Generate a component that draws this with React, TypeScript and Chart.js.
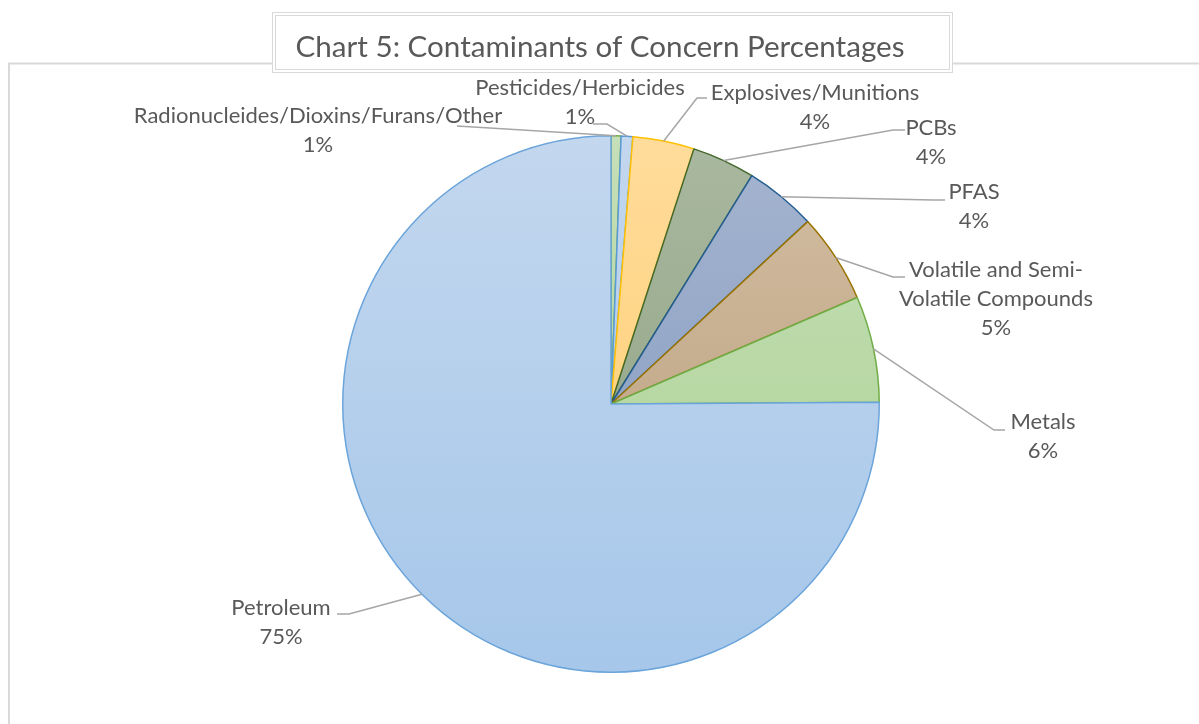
import React, { useEffect, useRef } from "react";
import { Chart, registerables } from "chart.js";

Chart.register(...registerables);

const TITLE = "Chart 5: Contaminants of Concern Percentages";

const categories = [
  "Radionucleides/Dioxins/Furans/Other",
  "Pesticides/Herbicides",
  "Explosives/Munitions",
  "PCBs",
  "PFAS",
  "Volatile and Semi-Volatile Compounds",
  "Metals",
  "Petroleum",
];

const values = [0.6, 0.7, 3.7, 3.8, 4.3, 5.4, 6.4, 75.1];

const labelLines = [
  ["Radionucleides/Dioxins/Furans/Other"],
  ["Pesticides/Herbicides"],
  ["Explosives/Munitions"],
  ["PCBs"],
  ["PFAS"],
  ["Volatile and Semi-", "Volatile Compounds"],
  ["Metals"],
  ["Petroleum"],
];

const fillTop = ["#c5dfb8", "#c3d7ee", "#ffdc9b", "#a9b8a0", "#a5b5d0", "#d4bfa2", "#c5dfb8", "#c3d7ee"];
const fillBottom = ["#a9d08e", "#a6c7ea", "#ffcb6a", "#8a9e7c", "#7f95bb", "#b49878", "#a9d08e", "#a6c7ea"];
const borders = ["#70ad47", "#5b9bd5", "#ffc000", "#43682b", "#255e91", "#997300", "#70ad47", "#6aa4da"];

// label text anchor (first line centre) and leader path points, relative to pie centre
const labelAnchor = [
  [-293, -288],
  [-31, -316],
  [204, -311],
  [320, -276],
  [363, -212],
  [385, -134],
  [432, 18],
  [-330, 204],
];
const leaderPath = [
  [[-154, -278]],
  [[-4, -280], [-18, -280]],
  [[86, -306], [96, -306]],
  [[282, -274], [294, -274]],
  [[322, -204], [334, -204]],
  [[282, -127], [294, -127]],
  [[383, 26], [394, 26]],
  [[-262, 210], [-274, 210]],
];

const FONT = "Lato, 'Open Sans', sans-serif";
const TEXT_COLOR = "#595959";

const framePlugin = {
  id: "frame",
  beforeDraw(chart: any) {
    const ctx = chart.ctx;
    ctx.save();
    ctx.fillStyle = "#ffffff";
    ctx.fillRect(0, 0, chart.width, chart.height);
    ctx.strokeStyle = "#d9d9d9";
    ctx.lineWidth = 2;
    ctx.beginPath();
    ctx.moveTo(9, chart.height + 2);
    ctx.lineTo(9, 63.5);
    ctx.lineTo(chart.width + 2, 63.5);
    ctx.stroke();
    // title box
    ctx.fillStyle = "#ffffff";
    ctx.fillRect(272, 12, 681, 61);
    ctx.lineWidth = 1;
    ctx.strokeStyle = "#d9d9d9";
    ctx.strokeRect(272.5, 12.5, 680, 60);
    ctx.strokeRect(275.5, 15.5, 674, 54);
    ctx.fillStyle = TEXT_COLOR;
    ctx.font = "29.6px " + FONT;
    ctx.textAlign = "center";
    ctx.textBaseline = "alphabetic";
    ctx.fillText(TITLE, 600, 57);
    ctx.restore();
  },
};

const labelPlugin = {
  id: "sliceLabels",
  afterDatasetsDraw(chart: any) {
    const ctx = chart.ctx;
    const meta = chart.getDatasetMeta(0);
    const total = values.reduce((a, b) => a + b, 0);
    ctx.save();
    meta.data.forEach((arc: any, i: number) => {
      const p = arc.getProps(["x", "y", "startAngle", "endAngle", "outerRadius"], true);
      const mid = (p.startAngle + p.endAngle) / 2;
      const sx = p.x + Math.cos(mid) * p.outerRadius;
      const sy = p.y + Math.sin(mid) * p.outerRadius;
      ctx.strokeStyle = "#a6a6a6";
      ctx.lineWidth = 1.5;
      ctx.beginPath();
      ctx.moveTo(sx, sy);
      leaderPath[i].forEach((pt) => ctx.lineTo(p.x + pt[0], p.y + pt[1]));
      ctx.stroke();
      const lines = [...labelLines[i], Math.round((values[i] / total) * 100) + "%"];
      ctx.fillStyle = TEXT_COLOR;
      ctx.font = "22px " + FONT;
      ctx.textAlign = "center";
      ctx.textBaseline = "middle";
      const ax = p.x + labelAnchor[i][0];
      const ay = p.y + labelAnchor[i][1];
      lines.forEach((t, k) => ctx.fillText(t, ax, ay + k * 29));
    });
    ctx.restore();
  },
};

export default function App() {
  const ref = useRef<HTMLCanvasElement>(null);
  useEffect(() => {
    if (!ref.current) return;
    const chart = new Chart(ref.current, {
      type: "pie",
      data: {
        labels: categories,
        datasets: [
          {
            data: values,
            backgroundColor: (c: any) => {
              const i = c.dataIndex;
              const area = c.chart.chartArea;
              if (!area) return fillTop[i];
              const g = c.chart.ctx.createLinearGradient(0, area.top, 0, area.bottom);
              g.addColorStop(0, fillTop[i]);
              g.addColorStop(1, fillBottom[i]);
              return g;
            },
            borderColor: borders,
            borderWidth: 1.5,
          },
        ],
      },
      options: {
        responsive: false,
        animation: false,
        devicePixelRatio: 1,
        layout: { padding: { top: 135, bottom: 51, left: 342, right: 319 } },
        plugins: {
          legend: { display: false },
          tooltip: { enabled: false },
          title: { display: false },
        },
      },
      plugins: [framePlugin, labelPlugin],
    });
    return () => chart.destroy();
  }, []);
  return (
    <div style={{ position: "fixed", left: 0, top: 0, width: 1199, height: 724 }}>
      <canvas ref={ref} width={1199} height={724} style={{ width: 1199, height: 724 }} />
    </div>
  );
}
